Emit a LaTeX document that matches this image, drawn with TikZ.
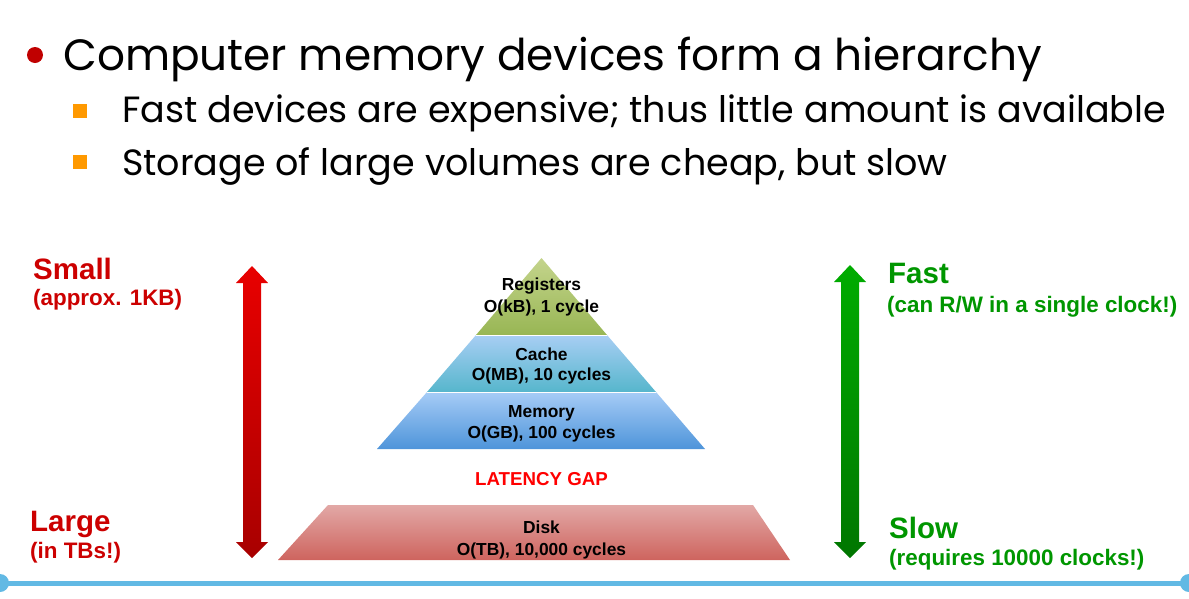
\documentclass[tikz,border=0pt]{standalone}
\usepackage{fontspec}
\setmainfont{Poppins}
\newfontfamily\labelfont{Liberation Sans}
\usetikzlibrary{calc}

\definecolor{bulletred}{RGB}{192,0,0}
\definecolor{bulletorange}{RGB}{255,153,0}
\definecolor{sizered}{RGB}{204,0,0}
\definecolor{speedgreen}{RGB}{0,150,0}
\definecolor{gapred}{RGB}{255,0,0}
\definecolor{railblue}{RGB}{98,185,228}

\tikzset{
  titletext/.style={anchor=base west, inner sep=0pt, font=\fontsize{43.8}{48}\selectfont},
  subtext/.style={anchor=base west, inner sep=0pt, font=\fontsize{36.5}{40}\selectfont},
  biglabel/.style={anchor=base west, inner sep=0pt, font=\labelfont\bfseries\fontsize{29.5}{32}\selectfont},
  smalllabel/.style={anchor=base west, inner sep=0pt, font=\labelfont\bfseries\fontsize{22.4}{26}\selectfont},
  leveltext/.style={anchor=base, inner sep=0pt, font=\labelfont\bfseries\fontsize{17.4}{20}\selectfont},
  levelsep/.style={draw=white, line width=0.8pt},
}

\begin{document}
\begin{tikzpicture}[x=1pt,y=-1pt]
\useasboundingbox (0,0) rectangle (1189,598);

% ---- bullet list ----
\fill[bulletred] (35,55) circle (8);
\node[titletext] (title) at (63,70) {Computer memory devices form a hierarchy};
\fill[bulletorange] (73,104) rectangle (87,118);
\node[subtext] (sub1) at (122,122) {Fast devices are expensive; thus little amount is available};
\fill[bulletorange] (73,155) rectangle (87,169);
\node[subtext] (sub2) at (122,175) {Storage of large volumes are cheap, but slow};

% ---- size axis (left) ----
\shade[top color={rgb,255:red,232;green,0;blue,0}, bottom color={rgb,255:red,168;green,0;blue,0}]
  (252,266) -- (268,283) -- (261,283) -- (261,542) -- (268,542) -- (252,558)
  -- (236,542) -- (243,542) -- (243,283) -- (236,283) -- cycle;
\node[biglabel, text=sizered] (small) at (33,279) {Small};
\node[smalllabel, text=sizered] (smallnote) at (33,305) {(approx. 1KB)};
\node[biglabel, text=sizered] (large) at (30,531) {Large};
\node[smalllabel, text=sizered] (largenote) at (30,558) {(in TBs!)};

% ---- speed axis (right) ----
\shade[top color={rgb,255:red,0;green,172;blue,0}, bottom color={rgb,255:red,0;green,118;blue,0}]
  (850,265) -- (866,282) -- (859,282) -- (859,542) -- (866,542) -- (850,558)
  -- (834,542) -- (841,542) -- (841,282) -- (834,282) -- cycle;
\node[biglabel, text=speedgreen] (fast) at (888,283) {Fast};
\node[smalllabel, text=speedgreen] (fastnote) at (887,312) {(can R/W in a single clock!)};
\node[biglabel, text=speedgreen] (slow) at (889,538) {Slow};
\node[smalllabel, text=speedgreen] (slownote) at (889,565) {(requires 10000 clocks!)};

% ---- pyramid ----
\shade[top color={rgb,255:red,196;green,212;blue,140}, bottom color={rgb,255:red,152;green,182;blue,84}]
  (541.5,258) -- (607,335) -- (476,335) -- cycle;
\shade[top color={rgb,255:red,168;green,206;blue,244}, bottom color={rgb,255:red,86;green,182;blue,204}]
  (476,335) -- (607,335) -- (656,392) -- (427,392) -- cycle;
\shade[top color={rgb,255:red,166;green,204;blue,246}, bottom color={rgb,255:red,78;green,148;blue,218}]
  (427,392) -- (656,392) -- (705,449) -- (377,449) -- cycle;
\draw[levelsep] (476,335) -- (607,335);
\draw[levelsep] (427,392) -- (656,392);

\node[leveltext] (reg) at (541.5,290) {Registers};
\node[leveltext] (regcost) at (541.5,312) {O(kB), 1 cycle};
\node[leveltext] (cache) at (541.5,360) {Cache};
\node[leveltext] (cachecost) at (541.5,380) {O(MB), 10 cycles};
\node[leveltext] (mem) at (541.5,417) {Memory};
\node[leveltext] (memcost) at (541.5,438) {O(GB), 100 cycles};

\node[leveltext, text=gapred, font=\labelfont\bfseries\fontsize{18.7}{21}\selectfont] (gap) at (541.5,485) {LATENCY GAP};

% ---- disk slab ----
\shade[top color={rgb,255:red,226;green,168;blue,166}, bottom color={rgb,255:red,206;green,100;blue,94}]
  (328,505) -- (753,505) -- (790,560) -- (278,560) -- cycle;
\node[leveltext] (disk) at (541.5,533) {Disk};
\node[leveltext] (diskcost) at (541.5,555) {O(TB), 10,000 cycles};

% ---- bottom rail ----
\draw[railblue, line width=5pt] (0,583) -- (1189,583);
\fill[railblue] (0,583) circle (9);
\fill[railblue] (1189,583) circle (9);
\end{tikzpicture}
\end{document}
